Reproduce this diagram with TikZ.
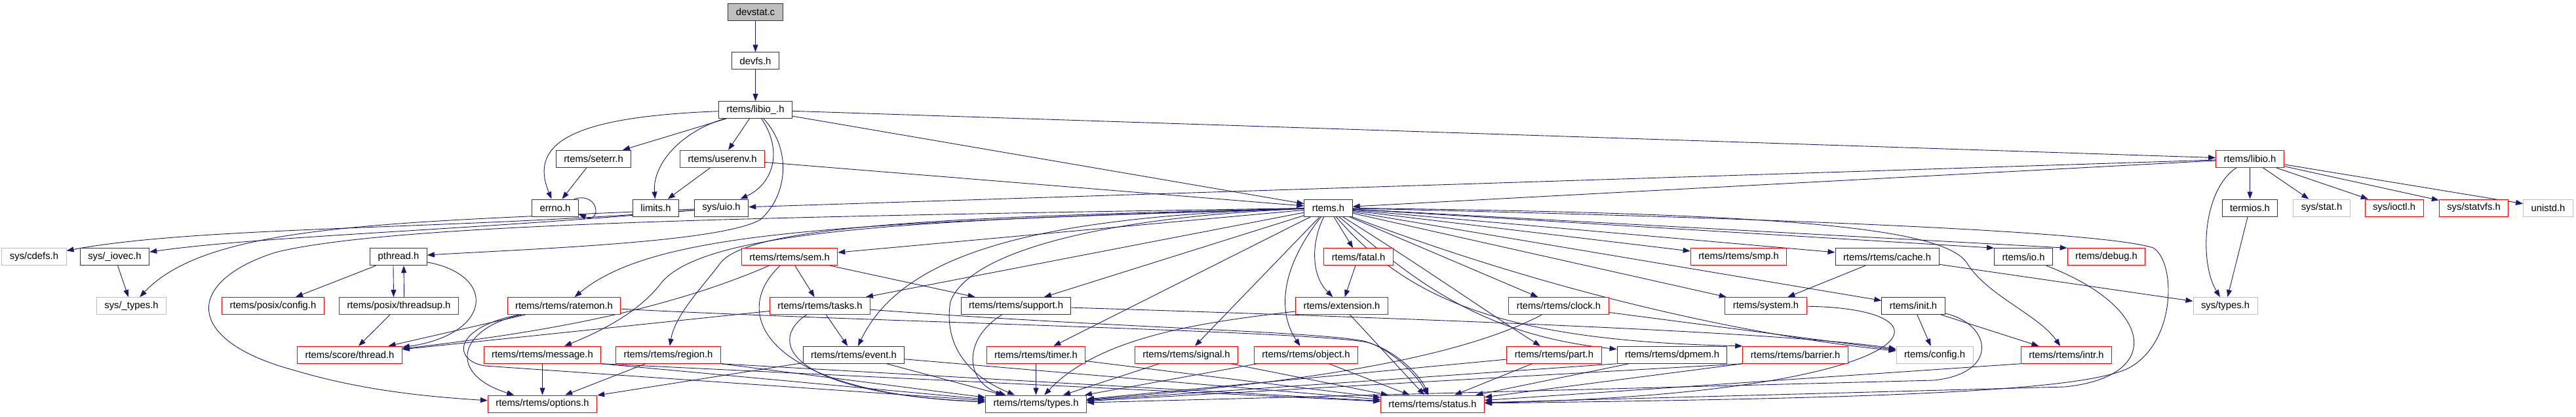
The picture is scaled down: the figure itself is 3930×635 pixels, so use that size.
\documentclass[tikz,border=0pt]{standalone}
\usepackage{fontspec}
\setmainfont{Liberation Sans}
\usepackage{tikz}
\usetikzlibrary{arrows.meta}
\definecolor{edgeblue}{RGB}{25,25,112}
\definecolor{boxgray}{RGB}{191,191,191}
\pgfdeclarelayer{back}
\pgfsetlayers{back,main}

\begin{document}
\begin{tikzpicture}[x=1pt, y=-1pt,
  every node/.style={draw=black!80, fill=white, line width=1pt, minimum height=26pt, inner xsep=12pt, inner ysep=0pt, font=\fontsize{14.8}{17}\selectfont},
  redbox/.style={draw=red},
  graybox/.style={draw=boxgray},
  srcbox/.style={fill=boxgray},
  edge/.style={-{Triangle[length=11pt,width=8pt]}, edgeblue, line width=0.9pt}]
\useasboundingbox (0,0) rectangle (3930,635);
\node (1) [srcbox] at (1152.5,18) {devstat.c};
\node (2) at (1152.5,92.75) {devfs.h};
\node (3) at (1152.5,167.5) {rtems/libio\_.h};
\node (4) at (905.5,242.25) {rtems/seterr.h};
\node (5) [redbox] at (1102,242.25) {rtems/userenv.h};
\node (6) [redbox] at (3432.5,242.25) {rtems/libio.h};
\node (7) at (847,317) {errno.h};
\node (8) at (1000.5,317) {limits.h};
\node (9) at (1100.5,317) {sys/uio.h};
\node (10) at (2026.5,317) {rtems.h};
\node (11) at (3432.5,317) {termios.h};
\node (12) [graybox] at (3542,317) {sys/stat.h};
\node (13) [redbox] at (3652.5,317) {sys/ioctl.h};
\node (14) [redbox] at (3774,317) {sys/statvfs.h};
\node (15) [graybox] at (3887.5,317) {unistd.h};
\node (16) [graybox] at (52,391.75) {sys/cdefs.h};
\node (17) at (175,391.75) {sys/\_iovec.h};
\node (18) at (608,391.75) {pthread.h};
\node (19) [redbox] at (1204.5,391.75) {rtems/rtems/sem.h};
\node (20) [redbox] at (2072.5,391.75) {rtems/fatal.h};
\node (21) [redbox] at (2652.5,391.75) {rtems/rtems/smp.h};
\node (22) at (2879,391.75) {rtems/rtems/cache.h};
\node (23) at (3087,391.75) {rtems/io.h};
\node (24) [redbox] at (3213.5,391.75) {rtems/debug.h};
\node (25) [graybox] at (200.5,466.5) {sys/\_types.h};
\node (26) [redbox] at (416.5,466.5) {rtems/posix/config.h};
\node (27) [redbox] at (608.5,466.5) {rtems/posix/threadsup.h};
\node (28) [redbox] at (860.5,466.5) {rtems/rtems/ratemon.h};
\node (29) [redbox] at (1251,466.5) {rtems/rtems/tasks.h};
\node (30) at (1550,466.5) {rtems/rtems/support.h};
\node (31) [redbox] at (2047,466.5) {rtems/extension.h};
\node (32) [redbox] at (2378,466.5) {rtems/rtems/clock.h};
\node (33) [redbox] at (2694,466.5) {rtems/system.h};
\node (34) at (2919,466.5) {rtems/init.h};
\node (35) [graybox] at (3395,466.5) {sys/types.h};
\node (36) [redbox] at (533.5,541.25) {rtems/score/thread.h};
\node (37) [redbox] at (827.5,541.25) {rtems/rtems/message.h};
\node (38) [redbox] at (1019.5,541.25) {rtems/rtems/region.h};
\node (39) at (1302.5,541.25) {rtems/rtems/event.h};
\node (40) [redbox] at (1580.5,541.25) {rtems/rtems/timer.h};
\node (41) [redbox] at (1810,541.25) {rtems/rtems/signal.h};
\node (42) [redbox] at (1992.5,541.25) {rtems/rtems/object.h};
\node (43) [redbox] at (2371,541.25) {rtems/rtems/part.h};
\node (44) at (2551,541.25) {rtems/rtems/dpmem.h};
\node (45) [redbox] at (2739,541.25) {rtems/rtems/barrier.h};
\node (46) [graybox] at (2951.5,541.25) {rtems/config.h};
\node (47) [redbox] at (3152.5,541.25) {rtems/rtems/intr.h};
\node (48) [redbox] at (827.5,616) {rtems/rtems/options.h};
\node (49) [redbox] at (1580.5,616) {rtems/rtems/types.h};
\node (50) [redbox] at (2185.5,616) {rtems/rtems/status.h};
\begin{pgfonlayer}{back}
% top
\draw[edge] (1) -- (2);
\draw[edge] (2) -- (3);
\draw[edge] (3) .. controls (880,178) and (805,215) .. (7);
\draw[edge] (3) -- (4);
\draw[edge] (3) .. controls (1040,200) and (995,250) .. (8);
\draw[edge] (3) -- (5);
\draw[edge] (3) .. controls (1195,230) and (1180,280) .. (9);
\draw[edge] (3) .. controls (1210,230) and (1200,300) .. (1160,335) .. controls (1100,370) and (800,380) .. (18);
\draw[edge] (3) -- (10);
\draw[edge] (3) -- (6);
\draw[edge] (4) -- (7);
\draw[edge] (7.25) .. controls (915,292) and (918,342) .. (7.-15);
\draw[edge] (5) -- (8);
\draw[edge] (5) -- (10);
\draw[edge] (6) -- (10);
\draw[edge] (6) -- (9);
\draw[edge] (6) -- (11);
\draw[edge] (6) -- (12);
\draw[edge] (6) -- (13);
\draw[edge] (6) -- (14);
\draw[edge] (6) -- (15);
\draw[edge] (6) .. controls (3360,290) and (3355,400) .. (35);
\draw[edge] (11) -- (35);
\draw[edge] (9) .. controls (700,350) and (300,345) .. (16);
\draw[edge] (9) .. controls (700,352) and (400,360) .. (17);
\draw[edge] (9) .. controls (600,340) and (320,340) .. (25);
\draw[edge] (17) -- (25);
\draw[edge] (18) -- (26);
\draw[edge] ([xshift=-8pt]18.south) -- ([xshift=-8pt]27.north);
\draw[edge] ([xshift=8pt]27.north) -- ([xshift=8pt]18.south);
\draw[edge] (18) .. controls (760,420) and (750,510) .. (36);
\draw[edge] (27) -- (36);
% rtems.h
\draw[edge] (10) .. controls (1200,330) and (600,340) .. (420,385) .. controls (280,430) and (280,520) .. (450,565) .. controls (550,595) and (650,605) .. (48);
\draw[edge] (10) -- (19);
\draw[edge] (10) .. controls (1300,340) and (1000,350) .. (28);
\draw[edge] (10) -- (29);
\draw[edge] (10) .. controls (1400,335) and (1080,350) .. (1010,430) .. controls (980,470) and (930,500) .. (37);
\draw[edge] (10) .. controls (1500,330) and (1150,340) .. (1100,400) .. controls (1070,440) and (1030,480) .. (38);
\draw[edge] (10) .. controls (1600,330) and (1380,380) .. (39);
\draw[edge] (10) -- (30);
\draw[edge] (10) .. controls (1700,330) and (1480,380) .. (1450,460) .. controls (1440,520) and (1470,570) .. (49);
\draw[edge] (10) -- (40);
\draw[edge] (10) -- (41);
\draw[edge] (10) .. controls (1960,400) and (1945,470) .. (42);
\draw[edge] (10) -- (20);
\draw[edge] (10) .. controls (2000,370) and (2000,420) .. (31);
\draw[edge] (10) -- (32);
\draw[edge] (10) .. controls (2160,400) and (2260,470) .. (43);
\draw[edge] (10) .. controls (2150,420) and (2250,510) .. (44);
\draw[edge] (10) .. controls (2150,460) and (2300,520) .. (45.north west);
\draw[edge] (10) -- (21);
\draw[edge] (10) -- (22);
\draw[edge] (10) -- (23.north west);
\draw[edge] (10) -- (24.north west);
\draw[edge] (10) -- (33);
\draw[edge] (10) -- (34);
\draw[edge] (10) .. controls (2350,440) and (2650,510) .. (46);
\draw[edge] (10) .. controls (2700,325) and (2960,345) .. (3000,400) .. controls (3030,450) and (3110,480) .. (47);
\draw[edge] (10) .. controls (2600,330) and (3200,350) .. (3285,378) .. controls (3320,400) and (3320,520) .. (3250,560) .. controls (3180,600) and (2800,608) .. (50);
% lower rows
\draw[edge] (19) -- (29);
\draw[edge] (19) -- (30);
\draw[edge] (19) .. controls (1000,480) and (800,510) .. (36);
\draw[edge] (19) .. controls (1110,480) and (1170,600) .. (49);
\draw[edge] (28) -- (36);
\draw[edge] (28) .. controls (700,500) and (680,570) .. (48);
\draw[edge] (28) .. controls (690,500) and (690,550) .. (740,558) -- (49);
\draw[edge] (28) .. controls (1300,490) and (2000,505) .. (2085,522) .. controls (2125,532) and (2165,570) .. (50);
\draw[edge] (29) -- (39);
\draw[edge] (29) -- (36);
\draw[edge] (29) .. controls (1170,520) and (1200,600) .. (49);
\draw[edge] (29) .. controls (1700,500) and (2000,505) .. (2080,520) .. controls (2120,530) and (2160,570) .. (50);
\draw[edge] (39) -- (48);
\draw[edge] (39) -- (49);
\draw[edge] (39) -- (50);
\draw[edge] (37) -- (48);
\draw[edge] (37.south east) -- (49);
\draw[edge] (37.south east) -- (50);
\draw[edge] (38) -- (48);
\draw[edge] (38.south east) -- (49);
\draw[edge] (38.south east) -- (50);
\draw[edge] (30) .. controls (1465,520) and (1475,585) .. (49);
\draw[edge] (30) .. controls (2300,490) and (2750,510) .. (46);
\draw[edge] (40) -- (49);
\draw[edge] (40) -- (50);
\draw[edge] (41) -- (49);
\draw[edge] (41) -- (50);
\draw[edge] (42) -- (49);
\draw[edge] (42) -- (50);
\draw[edge] (20) -- (31);
\draw[edge] (31) .. controls (1850,490) and (1680,510) .. (49);
\draw[edge] (31) -- (50);
\draw[edge] (32) .. controls (2200,560) and (1900,590) .. (49);
\draw[edge] (32) -- (46);
\draw[edge] (43) -- (49);
\draw[edge] (43) -- (50);
\draw[edge] (44.south west) -- (49);
\draw[edge] (44) -- (50);
\draw[edge] (45.south west) -- (49);
\draw[edge] (45.south west) -- (50);
\draw[edge] (33) .. controls (3000,470) and (2950,600) .. (50);
\draw[edge] (22) -- (33);
\draw[edge] (22) -- (35);
\draw[edge] (34) -- (46);
\draw[edge] (34) -- (47);
\draw[edge] (34) .. controls (3040,495) and (3050,570) .. (2950,580) -- (49);
\draw[edge] (23) .. controls (3290,470) and (3300,575) .. (3150,590) -- (50);
\draw[edge] (47.south west) -- (50);
\end{pgfonlayer}
\end{tikzpicture}
\end{document}
